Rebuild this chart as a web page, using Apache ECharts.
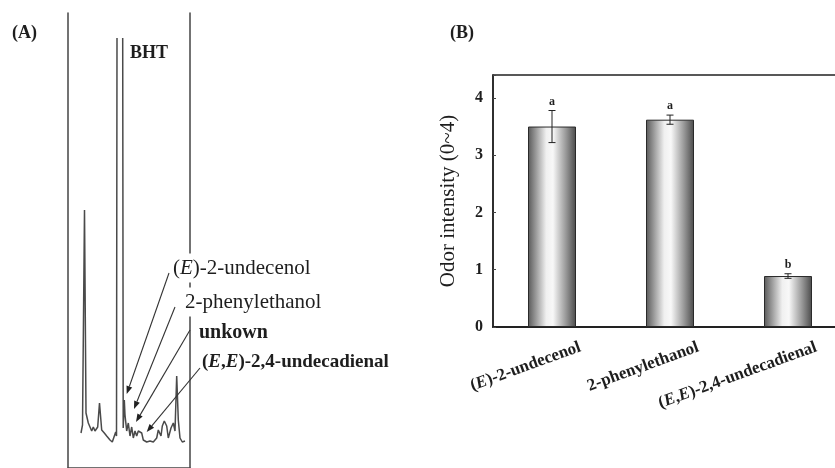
<!DOCTYPE html>
<html>
<head>
<meta charset="utf-8">
<script src="https://cdn.jsdelivr.net/npm/echarts@6/dist/echarts.min.js"></script>
<style>html,body{margin:0;padding:0;background:#fff;}#c{width:835px;height:468px;}</style>
</head>
<body>
<div id="c"></div>
<script>
// ---- Panel A: chromatogram trace (retention position, detector signal) ----
const chromTime = [13,14.5,16.5,18,19,20.3,22,23.7,25.3,27,29.7,31.5,32.5,33.7,36.3,38.7,40.3,42,44.3,46.3,47.7,48.5,49,51.8,54.7,55.2,56.3,57,58.7,60.3,62,63.7,65.3,67,68.7,70.3,73.7,75.3,78.7,82,85.3,88.7,90.3,93,94.3,96.3,98.7,100.3,103,105.3,107,108.7,110.3,112,114.3,117];
const chromSignal = [35,43,258,55,53,45,47,37,41,37,41,65,63,38,35,32,34,28,26,28,36,32,430,'-',430,40,68,53,37,45,32,41,30,37,32,37,35,28,26,27,26,30,38,32,42,47,42,30,40,45,37,92,48,30,26,27];
// arrow annotations: [label position] -> [peak position], in trace units
const arrowFrom = [[101,195],[107,161],[122,138],[132,100]];
const arrowTo   = [[58.7,74],[66,59],[68,46],[78.7,36]];

// ---- Panel B: odor intensity bars ----
const categories = ['(E)-2-undecenol', '2-phenylethanol', '(E,E)-2,4-undecadienal'];
const odorMean = [3.5, 3.62, 0.89];
const odorErr = [0.28, 0.08, 0.04];
const sigLetters = ['a', 'a', 'b'];
const yTickValues = [0, 1, 2, 3, 4];

const SERIF = '"Liberation Serif","DejaVu Serif","Times New Roman",serif';
const INK = '#1e1e1e';

const chart = echarts.init(document.getElementById('c'), null, {renderer: 'canvas'});

const italicE = s => s.replace(/E(?=[,)])/g, '{i|E}');

const trace = chromTime.map((t, i) => [t, chromSignal[i]]);
const arrows = arrowFrom.map((f, i) => [f[0], f[1], arrowTo[i][0], arrowTo[i][1]]);

const barGradient = new echarts.graphic.LinearGradient(0, 0, 1, 0, [
  {offset: 0, color: '#585858'},
  {offset: 0.12, color: '#888888'},
  {offset: 0.38, color: '#f0f0f0'},
  {offset: 0.52, color: '#f8f8f8'},
  {offset: 0.8, color: '#959595'},
  {offset: 1, color: '#4a4a4a'}
]);

const option = {
  animation: false,
  backgroundColor: '#ffffff',
  textStyle: {fontFamily: SERIF},
  grid: [
    {left: 68, width: 122, top: 13, bottom: 0, outerBoundsMode: 'none', containLabel: false},
    {left: 493, width: 354, top: 75, height: 252, show: true, borderColor: '#222', borderWidth: 1.5, backgroundColor: 'transparent', outerBoundsMode: 'none', containLabel: false}
  ],
  xAxis: [
    {type: 'value', gridIndex: 0, min: 0, max: 122, position: 'top',
     axisLine: {show: true, lineStyle: {color: '#444', width: 1.5}},
     axisTick: {show: false}, axisLabel: {show: false}, splitLine: {show: false}},
    {type: 'category', gridIndex: 1, data: categories, boundaryGap: true,
     axisLine: {show: true, lineStyle: {color: '#222', width: 2}},
     axisTick: {show: false}, splitLine: {show: false},
     axisLabel: {
       interval: 0, rotate: 20, margin: 30, color: INK,
       fontFamily: SERIF, fontWeight: 'bold', fontSize: 17,
       padding: [0, -30, 0, 0],
       formatter: v => italicE(v),
       rich: {i: {fontStyle: 'italic', fontWeight: 'bold', fontFamily: SERIF, fontSize: 17, color: INK}}
     }}
  ],
  yAxis: [
    {type: 'value', gridIndex: 0, min: 0, max: 455, position: 'left',
     axisLine: {show: true, lineStyle: {color: '#444', width: 1.5}},
     axisTick: {show: false}, axisLabel: {show: false}, splitLine: {show: false}},
    {type: 'value', gridIndex: 0, min: 0, max: 455, position: 'right',
     axisLine: {show: true, lineStyle: {color: '#444', width: 1.5}},
     axisTick: {show: false}, axisLabel: {show: false}, splitLine: {show: false}},
    {type: 'value', gridIndex: 1, min: 0, max: 4.4, interval: 1,
     name: 'Odor intensity (0~4)', nameLocation: 'middle', nameGap: 34,
     nameTextStyle: {fontFamily: SERIF, fontSize: 21, color: INK},
     axisLine: {show: true, lineStyle: {color: '#222', width: 1.5}},
     axisTick: {show: true, inside: true, length: 3, lineStyle: {color: '#444'}},
     splitLine: {show: false},
     axisLabel: {margin: 10, color: INK, fontFamily: SERIF, fontWeight: 'bold', fontSize: 16,
       formatter: v => (yTickValues.indexOf(Math.round(v * 1000) / 1000) >= 0 ? String(v) : '')}}
  ],
  series: [
    {
      type: 'line', xAxisIndex: 0, yAxisIndex: 0, data: trace,
      showSymbol: false, symbol: 'none', connectNulls: false, clip: false,
      lineStyle: {color: '#4a4a4a', width: 1.5}, z: 3
    },
    {
      type: 'custom', xAxisIndex: 0, yAxisIndex: 0, data: arrows, clip: false, z: 4, silent: true,
      encode: {x: [0, 2], y: [1, 3]},
      renderItem: (params, api) => {
        const a = api.coord([api.value(0), api.value(1)]);
        const b = api.coord([api.value(2), api.value(3)]);
        const dx = b[0] - a[0], dy = b[1] - a[1];
        const len = Math.sqrt(dx * dx + dy * dy);
        const ux = dx / len, uy = dy / len;
        const hl = 8, hw = 3;
        const base = [b[0] - ux * hl, b[1] - uy * hl];
        return {
          type: 'group',
          children: [
            {type: 'line', shape: {x1: a[0], y1: a[1], x2: base[0], y2: base[1]}, style: {stroke: '#333', lineWidth: 1.1}},
            {type: 'polygon', shape: {points: [b, [base[0] - uy * hw, base[1] + ux * hw], [base[0] + uy * hw, base[1] - ux * hw]]},
             style: {fill: '#222'}}
          ]
        };
      }
    },
    {
      type: 'bar', xAxisIndex: 1, yAxisIndex: 2, data: odorMean, barWidth: 48,
      itemStyle: {color: barGradient, borderColor: '#2a2a2a', borderWidth: 1}, z: 2
    },
    {
      type: 'custom', xAxisIndex: 1, yAxisIndex: 2,
      data: odorMean.map((m, i) => [i, m, odorErr[i]]),
      z: 4,
      renderItem: (params, api) => {
        const i = api.value(0), m = api.value(1), e = api.value(2);
        const top = api.coord([i, m + e]);
        const bot = api.coord([i, m - e]);
        const hw = 3.5;
        const ls = {stroke: '#222', lineWidth: 1};
        return {
          type: 'group',
          children: [
            {type: 'line', shape: {x1: top[0], y1: top[1], x2: bot[0], y2: bot[1]}, style: ls},
            {type: 'line', shape: {x1: top[0] - hw, y1: top[1], x2: top[0] + hw, y2: top[1]}, style: ls},
            {type: 'line', shape: {x1: bot[0] - hw, y1: bot[1], x2: bot[0] + hw, y2: bot[1]}, style: ls},
            {type: 'text', x: top[0], y: top[1] - 3,
             style: {text: sigLetters[params.dataIndex], fill: INK, align: 'center', verticalAlign: 'bottom',
                     font: 'bold 12px ' + SERIF}}
          ]
        };
      }
    }
  ],
  graphic: [
    {type: 'text', x: 12, y: 33, style: {text: '(A)', font: 'bold 18px ' + SERIF, fill: INK, verticalAlign: 'middle'}},
    {type: 'text', x: 450, y: 33, style: {text: '(B)', font: 'bold 18px ' + SERIF, fill: INK, verticalAlign: 'middle'}},
    {type: 'text', x: 130, y: 53, style: {text: 'BHT', font: 'bold 18px ' + SERIF, fill: INK, verticalAlign: 'middle'}},
    {type: 'text', x: 171, y: 268, z: 10,
     style: {text: '({i|E})-2-undecenol', font: '21px ' + SERIF, fill: INK, verticalAlign: 'middle',
       backgroundColor: '#fff', padding: [4, 2],
       rich: {i: {fontStyle: 'italic', fontSize: 21, fontFamily: SERIF, fill: INK}}}},
    {type: 'text', x: 183, y: 302, z: 10,
     style: {text: '2-phenylethanol', font: '21px ' + SERIF, fill: INK, verticalAlign: 'middle',
       backgroundColor: '#fff', padding: [4, 2]}},
    {type: 'text', x: 199, y: 333, z: 10,
     style: {text: 'unkown', font: 'bold 20px ' + SERIF, fill: INK, verticalAlign: 'middle'}},
    {type: 'text', x: 202, y: 362, z: 10,
     style: {text: '({i|E},{i|E})-2,4-undecadienal', font: 'bold 19px ' + SERIF, fill: INK, verticalAlign: 'middle',
       rich: {i: {fontStyle: 'italic', fontWeight: 'bold', fontSize: 19, fontFamily: SERIF, fill: INK}}}}
  ]
};

chart.setOption(option);
</script>
</body>
</html>
